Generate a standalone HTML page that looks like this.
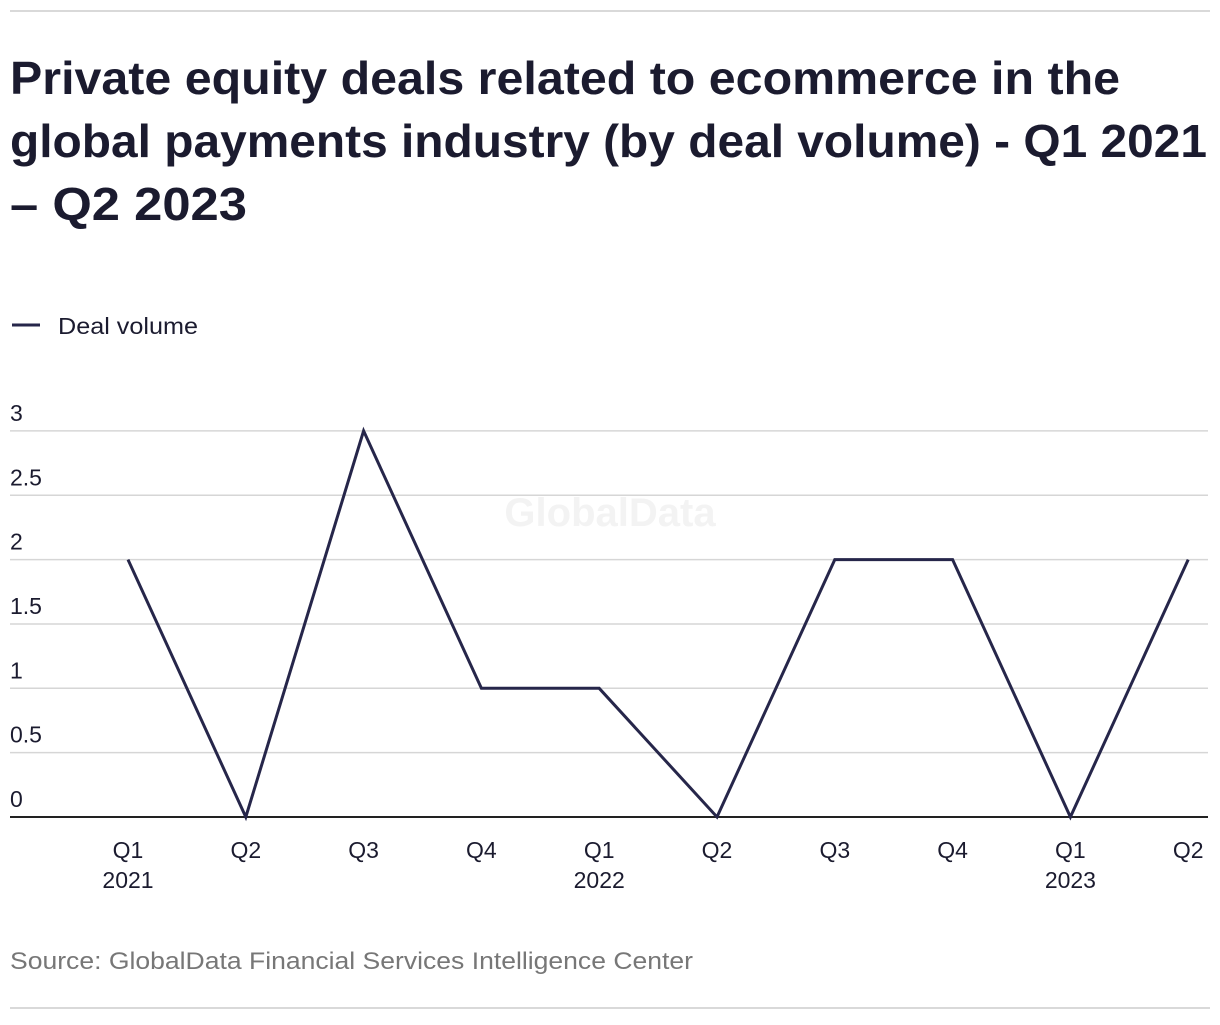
<!DOCTYPE html>
<html><head><meta charset="utf-8"><style>
body{margin:0;background:#fff;width:1220px;height:1020px;overflow:hidden;font-family:"Liberation Sans",sans-serif;}
svg text{font-family:"Liberation Sans",sans-serif;}
</style></head><body>
<svg width="1220" height="1020">
<line x1="10" y1="11" x2="1210" y2="11" stroke="#d9d9d9" stroke-width="2"/>
<g fill="#1b1b2f" font-weight="bold" font-size="46">
<text x="10" y="94" textLength="1110" lengthAdjust="spacingAndGlyphs">Private equity deals related to ecommerce in the</text>
<text x="10" y="157" textLength="1197" lengthAdjust="spacingAndGlyphs">global payments industry (by deal volume) - Q1 2021</text>
<text x="10" y="220" textLength="237" lengthAdjust="spacingAndGlyphs">– Q2 2023</text>
</g>
<g>
<line x1="12" y1="325" x2="40" y2="325" stroke="#26264a" stroke-width="3"/>
<text x="58" y="334" font-size="23" fill="#1b1b2f" textLength="140" lengthAdjust="spacingAndGlyphs">Deal volume</text>
</g>
<text x="610" y="526" font-size="40" font-weight="bold" fill="#f3f3f3" text-anchor="middle">GlobalData</text>
<g id="grid"></g><g id="xt"></g>
<path id="line" fill="none" stroke="#26264a" stroke-width="3" stroke-linejoin="miter"/>
<text x="10" y="969" font-size="24" fill="#777" textLength="683" lengthAdjust="spacingAndGlyphs">Source: GlobalData Financial Services Intelligence Center</text>
<line x1="10" y1="1008" x2="1210" y2="1008" stroke="#d9d9d9" stroke-width="2"/>
</svg>
<script>
const categories=["Q1","Q2","Q3","Q4","Q1","Q2","Q3","Q4","Q1","Q2"];
const years=["2021","","","","2022","","","","2023",""];
const values=[2,0,3,1,1,0,2,2,0,2];
const yTicks=[0,0.5,1,1.5,2,2.5,3];
const NS="http://www.w3.org/2000/svg";
const y=v=>817-v*128.7;
const x=i=>128+i*117.8;
const grid=document.getElementById('grid');
yTicks.forEach(t=>{
 const l=document.createElementNS(NS,'line');
 l.setAttribute('x1',10);l.setAttribute('x2',1208);l.setAttribute('y1',y(t));l.setAttribute('y2',y(t));
 l.setAttribute('stroke',t===0?'#222':'#d6d6d6');l.setAttribute('stroke-width',t===0?2:1.5);
 
 
 grid.appendChild(l);
 const tx=document.createElementNS(NS,'text');
 tx.setAttribute('x',10);tx.setAttribute('y',y(t)-10);tx.setAttribute('font-size',23);tx.setAttribute('fill','#1b1b2f');
 tx.textContent=String(t);
 
 
 grid.appendChild(tx);
});
const xt=document.getElementById('xt');
categories.forEach((c,i)=>{
 const t=document.createElementNS(NS,'text');
 t.setAttribute('x',x(i));t.setAttribute('y',858);t.setAttribute('font-size',23);t.setAttribute('fill','#1b1b2f');t.setAttribute('text-anchor','middle');
 t.textContent=c;
 
 
 xt.appendChild(t);
 if(years[i]){
  const t2=document.createElementNS(NS,'text');
  t2.setAttribute('x',x(i));t2.setAttribute('y',888);t2.setAttribute('font-size',23);t2.setAttribute('fill','#1b1b2f');t2.setAttribute('text-anchor','middle');
  t2.textContent=years[i];
  
  
  xt.appendChild(t2);
 }
});
document.getElementById('line').setAttribute('d',values.map((v,i)=>(i?'L':'M')+x(i)+' '+y(v)).join(' '));
</script>
</body></html>
